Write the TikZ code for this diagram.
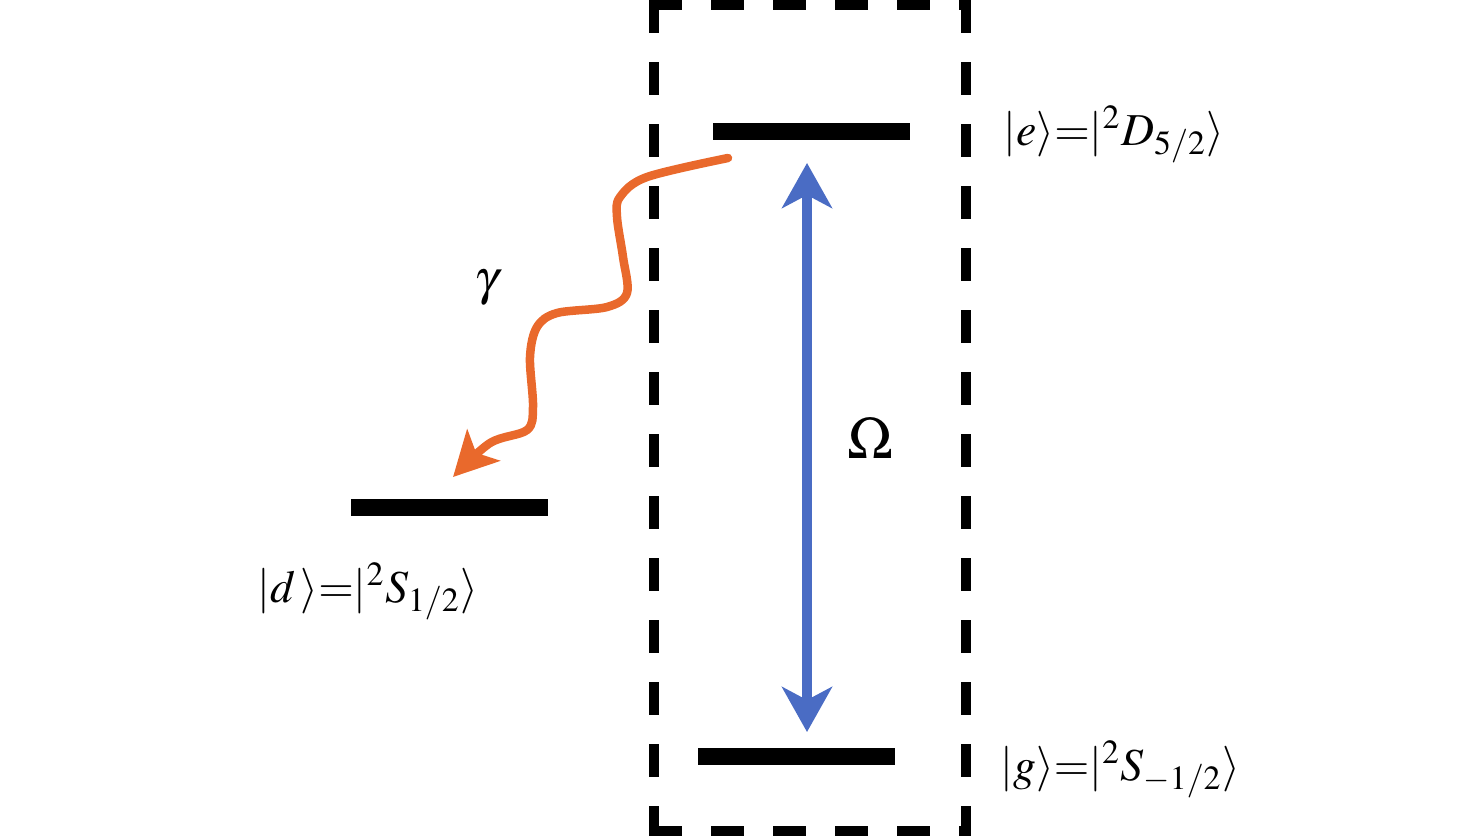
\documentclass[tikz,border=0pt]{standalone}
\usepackage{mathptmx}
\usetikzlibrary{arrows.meta}
\definecolor{laserblue}{HTML}{4A6CC4}
\definecolor{decayorange}{HTML}{E9692C}

\begin{document}
\begin{tikzpicture}[
  level/.style={fill=black,minimum width=1.97cm,minimum height=0.17cm,inner sep=0pt},
  statelab/.style={anchor=base west,inner sep=0pt,font=\fontsize{13}{15}\selectfont},
  boxedge/.style={line width=0.1cm,dash pattern=on 0.33cm off 0.29cm},
  drive/.style={laserblue,line width=0.1cm,
      {Stealth[length=12.8pt,width=14.2pt,inset=3.7pt]}-{Stealth[length=12.8pt,width=14.2pt,inset=3.7pt]}},
  photon/.style={decayorange,line width=0.085cm,line cap=round,
      -{Stealth[length=12.5pt,width=12.8pt,inset=3pt]}}]
\useasboundingbox (0,0) rectangle (14.76,8.36);

% dashed box round the two-level system
\draw[boxedge] (6.49,8.31) -- (9.71,8.31);
\draw[boxedge] (6.54,8.36) -- (6.54,0);
\draw[boxedge] (9.66,8.36) -- (9.66,0);
\draw[boxedge] (6.49,0.05) -- (9.71,0.05);

% levels
\node[level] (e) at (8.11,7.05) {};
\node[level] (d) at (4.495,3.29) {};
\node[level] (g) at (7.96,0.80) {};

\node[statelab] (elab) at (10.03,6.91) {$|e\rangle{=}|^2D_{5/2}\rangle$};
\node[statelab] (dlab) at (2.57,2.34) {$|d\,\rangle{=}|^2S_{1/2}\rangle$};
\node[statelab] (glab) at (10.00,0.56) {$|g\rangle{=}|^2S_{-1/2}\rangle$};

% drive
\coordinate (up) at (8.07,6.73);
\coordinate (dn) at (8.07,1.04);
\draw[drive] (up) -- (dn);
\node[font=\fontsize{17}{19}\selectfont] (Om) at (8.70,3.98) {$\Omega$};

% decay e -> d
\draw[photon] plot[smooth,tension=0.55] coordinates {
  (7.28,6.78) (6.47,6.59) (6.20,6.39) (6.17,6.19) (6.23,5.79) (6.27,5.43)
  (6.07,5.29) (5.57,5.23) (5.37,5.09) (5.30,4.79) (5.33,4.29) (5.27,4.06)
  (4.90,3.93) (4.53,3.59)};
\node[font=\fontsize{14}{16}\selectfont] (gam) at (4.87,5.48) {$\gamma$};
\end{tikzpicture}
\end{document}
